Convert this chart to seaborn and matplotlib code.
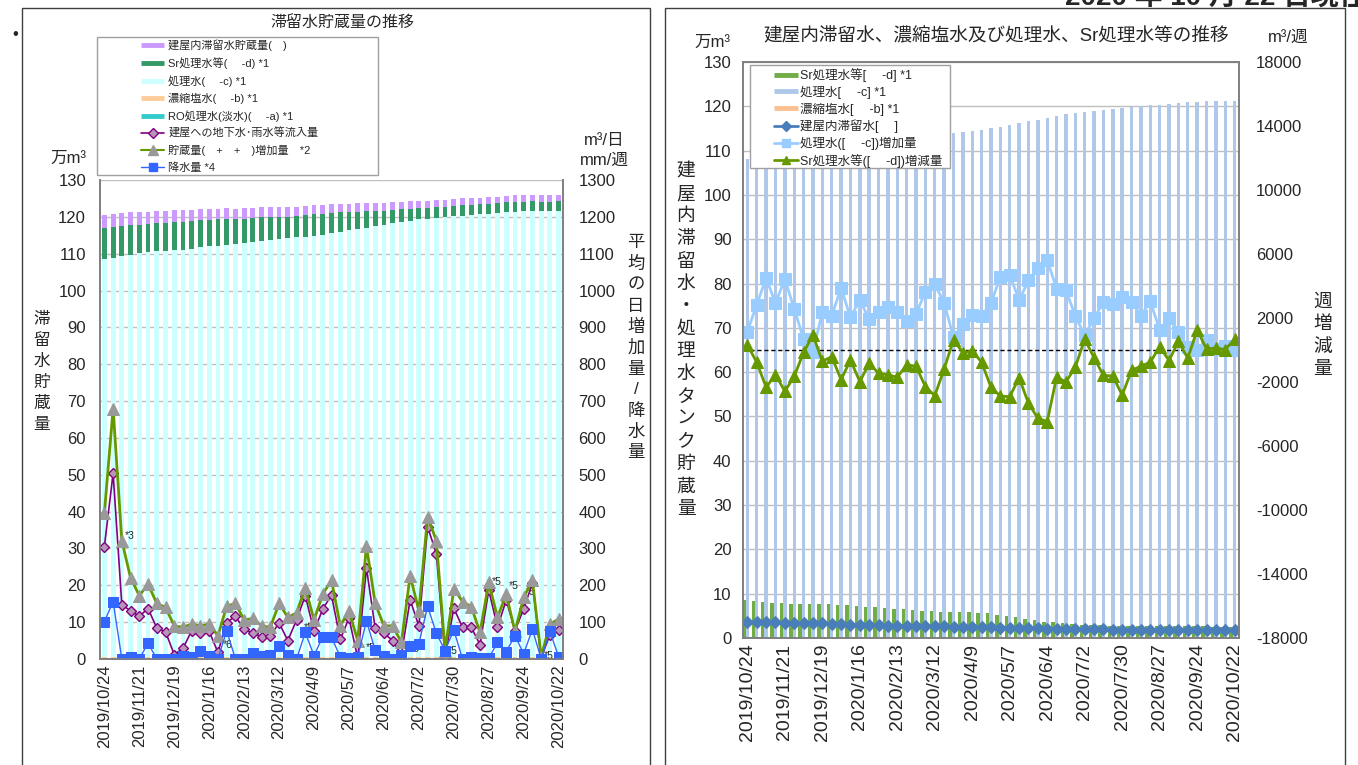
import numpy as np
import pandas as pd
import seaborn as sns
import matplotlib.pyplot as plt
from matplotlib.patches import Rectangle
from matplotlib.lines import Line2D

W, H = 1358, 765
FONTS = ['Liberation Sans', 'Noto Sans CJK JP']

# weekly dates (53 weeks)
dates = pd.date_range("2019-10-24", periods=53, freq="7D")
date_labels = [f"{d.year}/{d.month}/{d.day}" for d in dates]

# storage (万m3)
building = [3.6, 3.6, 3.5, 3.5, 3.4, 3.4, 3.3, 3.3, 3.3, 3.2, 3.1, 3.0, 3.0, 2.9, 2.9, 2.8, 2.8, 2.7,
            2.7, 2.7, 2.6, 2.6, 2.5, 2.5, 2.5, 2.4, 2.4, 2.3, 2.3, 2.3, 2.2, 2.2, 2.1, 2.1, 2.1, 2.0,
            2.0, 2.0, 2.0, 1.9, 1.9, 1.9, 1.9, 1.8, 1.8, 1.8, 1.8, 1.8, 1.7, 1.7, 1.8, 1.7, 1.8]
sr_water = [8.5, 8.4, 8.2, 8.0, 7.8, 7.6, 7.6, 7.7, 7.6, 7.6, 7.4, 7.4, 7.2, 7.1, 7.0, 6.8, 6.6, 6.6,
            6.4, 6.2, 6.0, 5.8, 5.8, 5.8, 5.8, 5.7, 5.6, 5.3, 4.9, 4.7, 4.4, 4.1, 3.7, 3.5, 3.3, 3.2,
            3.0, 2.9, 2.9, 2.8, 2.8, 2.8, 2.7, 2.7, 2.7, 2.6, 2.6, 2.6, 2.6, 2.6, 2.5, 2.5, 2.5]
treated = [108.0, 108.3, 108.8, 109.2, 109.6, 109.9, 110.1, 110.2, 110.4, 110.6, 110.9, 111.2, 111.5,
           111.7, 111.9, 112.1, 112.4, 112.7, 113.0, 113.3, 113.5, 113.7, 113.9, 114.1, 114.4, 114.6,
           115.0, 115.4, 115.8, 116.2, 116.6, 117.0, 117.4, 117.8, 118.2, 118.5, 118.8, 119.0, 119.2,
           119.4, 119.6, 119.8, 120.0, 120.2, 120.4, 120.6, 120.8, 120.9, 121.0, 121.1, 121.1, 121.1, 121.2]
brine = [0.1] * 53
ro_water = [0.4] * 53

# left chart lines (m3/日, mm/週)
inflow = [305, 504, 147, 131, 116, 137, 84, 74, 12, 29, 77, 70, 75, 18, 99, 116, 81, 70, 61, 63, 98,
          50, 106, 172, 75, 136, 173, 53, 111, 3, 247, 84, 70, 50, 12, 161, 89, 359, 286, 6, 138, 86,
          86, 39, 187, 86, 160, 77, 136, 206, 3, 66, 79]
storage_inc = [396, 679, 321, 220, 172, 203, 151, 140, 90, 86, 95, 90, 95, 63, 143, 151, 106, 110, 90,
               86, 151, 113, 125, 194, 106, 176, 214, 90, 130, 50, 307, 151, 90, 90, 45, 226, 131, 386,
               321, 23, 190, 156, 142, 72, 208, 113, 176, 75, 167, 214, 6, 95, 108]
rain = [101, 156, 0, 5, 0, 43, 0, 0, 0, 8, 6, 21, 8, 0, 77, 0, 0, 15, 9, 12, 35, 11, 0, 72, 9, 61, 59,
        6, 2, 5, 104, 24, 9, 0, 12, 34, 41, 143, 70, 23, 79, 0, 5, 2, 2, 45, 20, 63, 14, 81, 0, 75, 6]

# right chart lines (m3/週)
treated_inc = [1146, 2833, 4500, 2916, 4437, 2562, 687, -104, 2354, 2146, 3875, 2041, 3125, 1916, 2354,
               2666, 2354, 1791, 2250, 3645, 4125, 2937, 791, 1625, 2208, 2146, 2916, 4590, 4700, 3110,
               4347, 5109, 5624, 3832, 3729, 2122, 927, 1978, 3008, 2905, 3317, 3008, 2122, 3049, 1257,
               2019, 1154, 165, 0, 618, 62, 268, 0]
sr_change = [312, -771, -2333, -1541, -2583, -1646, -146, 937, -708, -417, -1854, -625, -1979, -833,
             -1458, -1541, -1708, -917, -1021, -2291, -2854, -1187, 646, -187, -42, -771, -2333, -2880,
             -2920, -1730, -3337, -4264, -4470, -1689, -1998, -1071, 680, -494, -1586, -1627, -2822,
             -1277, -1009, -762, 206, -659, 536, -515, 1257, 62, 124, 21, 680]

# note marks on the left chart: (week index, value in 万m3, text)
notes = [(2.3, 33.5, "*3"), (13.6, 3.8, "*6"), (22.8, 8.3, "*5"), (29.9, 2.9, "*5"), (35.0, 2.6, "*5"),
         (39.3, 2.3, "*5"), (44.4, 21.0, "*5"), (46.3, 19.8, "*5"), (48.2, 18.3, "*5"), (50.3, 0.8, "*5")]

sns.set_theme(style="white")
plt.rcParams['font.family'] = FONTS
plt.rcParams['axes.unicode_minus'] = False


def fx(x):
    return x / W


def fy(y):
    return 1 - y / H


fig = plt.figure(figsize=(W / 100, H / 100), dpi=100)
idx = np.arange(len(date_labels))

# ---------- left chart ----------
ax1 = fig.add_axes([fx(100), fy(659), 463 / W, 479 / H])
df = pd.DataFrame({"date": date_labels, "ro": ro_water, "brine": brine, "treated": treated,
                   "sr": sr_water, "building": building})
df["t_ro"] = df["ro"]
df["t_brine"] = df["t_ro"] + df["brine"]
df["t_treated"] = df["t_brine"] + df["treated"]
df["t_sr"] = df["t_treated"] + df["sr"]
df["t_building"] = df["t_sr"] + df["building"]
for col, c in [("t_building", "#CC99FF"), ("t_sr", "#339966"), ("t_treated", "#CCFFFF"),
               ("t_brine", "#FFCC99"), ("t_ro", "#33CCCC")]:
    sns.barplot(data=df, x="date", y=col, color=c, saturation=1, width=0.55, linewidth=0, ax=ax1)
ax1.set_ylim(0, 130)
ax1.set_yticks(range(0, 131, 10))
ax1.yaxis.grid(True, color="#C0C0C0", lw=1)
ax1.set_axisbelow(True)
ax1.set_xlabel("")
ax1.set_ylabel("")

ax1r = ax1.twinx()
sns.lineplot(x=idx, y=inflow, ax=ax1r, color="#800080", lw=1.2, marker="D", markersize=5,
             markerfacecolor="#B996B9", markeredgecolor="#800080", markeredgewidth=1)
sns.lineplot(x=idx, y=storage_inc, ax=ax1r, color="#669900", lw=2, marker="^", markersize=9,
             markerfacecolor="#999999", markeredgecolor="#999999")
sns.lineplot(x=idx, y=rain, ax=ax1r, color="#3366FF", lw=1, marker="s", markersize=7,
             markerfacecolor="#3366FF", markeredgecolor="#3366FF")
ax1r.set_ylim(0, 1300)
ax1r.set_yticks(range(0, 1301, 100))
ax1.set_xlim(-0.5, 52.5)
ax1.set_xticks(idx[::4])
ax1.set_xticklabels(date_labels[::4], rotation=90, fontsize=12)
ax1.tick_params(axis="y", labelsize=12, pad=10, length=0)
ax1.tick_params(axis="x", pad=4, length=0)
ax1r.tick_params(axis="y", labelsize=12, pad=11, length=0)
for a in (ax1, ax1r):
    for s in ("left", "right", "bottom"):
        a.spines[s].set_color("#808080")
    a.spines["top"].set_visible(False)
for i, v, t in notes:
    ax1.text(i, v, t, fontsize=7.5, ha="left", va="center", zorder=10)

# ---------- right chart ----------
ax2 = fig.add_axes([fx(742.7), fy(638), 496.6 / W, 576 / H])
long_df = pd.DataFrame({
    "date": date_labels * 3,
    "series": ["sr"] * 53 + ["treated"] * 53 + ["brine"] * 53,
    "value": sr_water + treated + brine,
})
sns.barplot(data=long_df, x="date", y="value", hue="series", hue_order=["sr", "treated", "brine"],
            palette={"sr": "#70AD47", "treated": "#AFC8EA", "brine": "#FAC090"}, saturation=1,
            width=1.1, dodge=True, linewidth=0, legend=False, ax=ax2)
sns.lineplot(x=idx, y=building, ax=ax2, color="#4A7EBB", lw=2, marker="D", markersize=6,
             markeredgecolor="#4A7EBB")
ax2.set_ylim(0, 130)
ax2.set_yticks(range(0, 131, 10))
ax2.yaxis.grid(True, color="#BFBFBF", lw=1)
ax2.set_axisbelow(True)
ax2.set_xlabel("")
ax2.set_ylabel("")

ax2r = ax2.twinx()
ax2r.axhline(0, color="black", lw=1, ls=(0, (3, 2)))
sns.lineplot(x=idx, y=treated_inc, ax=ax2r, color="#99CCFF", lw=2, marker="s", markersize=8,
             markeredgecolor="#99CCFF")
sns.lineplot(x=idx, y=sr_change, ax=ax2r, color="#669900", lw=2, marker="^", markersize=8,
             markeredgecolor="#669900")
ax2r.set_ylim(-18000, 18000)
ax2r.set_yticks(range(-18000, 18001, 4000))
ax2.set_xlim(-0.5, 52.5)
ax2.set_xticks(idx[::4])
ax2.set_xticklabels(date_labels[::4], rotation=90, fontsize=14)
ax2.tick_params(axis="y", labelsize=12, pad=8, length=0)
ax2.tick_params(axis="x", pad=4, length=0)
ax2r.tick_params(axis="y", labelsize=12, pad=12, length=0)
for a in (ax2, ax2r):
    for s in ("left", "right", "bottom", "top"):
        a.spines[s].set_color("#808080")

# ---------- boxes, titles, labels ----------
for x0, x1 in [(22, 650), (665, 1345)]:
    fig.patches.append(Rectangle((fx(x0), fy(775)), (x1 - x0) / W, (775 - 8) / H,
                                 transform=fig.transFigure, fill=False, ec="#404040", lw=1, zorder=0))

fig.text(fx(1065), fy(6), "2020 年 10 月 22 日現在", fontsize=20, fontweight="bold", va="baseline")
fig.text(fx(15), fy(35), "•", fontsize=12, ha="center", va="center")

fig.text(fx(342), fy(22), "滞留水貯蔵量の推移", fontsize=11.5, ha="center", va="center")
fig.text(fx(996), fy(37), "建屋内滞留水、濃縮塩水及び処理水、Sr処理水等の推移", fontsize=13.4,
         ha="center", va="center")
fig.text(fx(68), fy(158), "万m³", fontsize=12, ha="center", va="center")
fig.text(fx(604), fy(140), "m³/日", fontsize=12, ha="center", va="center")
fig.text(fx(604), fy(160), "mm/週", fontsize=12, ha="center", va="center")
fig.text(fx(712), fy(42), "万m³", fontsize=12, ha="center", va="center")
fig.text(fx(1288), fy(37), "m³/週", fontsize=12, ha="center", va="center")


def vtext(x, y0, s, size, step):
    for k, ch in enumerate(s):
        fig.text(fx(x), fy(y0 + k * step), ch, fontsize=size, ha="center", va="center")


vtext(42, 319, "滞留水貯蔵量", 12, 21)
vtext(636, 243, "平均の日増加量/降水量", 12.5, 21)
vtext(686, 172, "建屋内滞留水・処理水タンク貯蔵量", 13.5, 22.5)
vtext(1323, 302, "週増減量", 13.5, 22.5)

# ---------- legends ----------
fig.patches.append(Rectangle((fx(97), fy(175)), (378 - 97) / W, (175 - 37) / H,
                             transform=fig.transFigure, fc="white", ec="#A0A0A0", lw=1, zorder=3))
h1 = [
    Line2D([], [], color="#CC99FF", lw=3.5, solid_capstyle="butt"),
    Line2D([], [], color="#339966", lw=3.5, solid_capstyle="butt"),
    Line2D([], [], color="#CCFFFF", lw=3.5, solid_capstyle="butt"),
    Line2D([], [], color="#FFCC99", lw=3.5, solid_capstyle="butt"),
    Line2D([], [], color="#33CCCC", lw=3.5, solid_capstyle="butt"),
    Line2D([], [], color="#800080", lw=1.2, marker="D", markersize=5, markerfacecolor="#B996B9"),
    Line2D([], [], color="#669900", lw=1.5, marker="^", markersize=7, markerfacecolor="#999999",
           markeredgecolor="#999999"),
    Line2D([], [], color="#3366FF", lw=1, marker="s", markersize=6),
]
l1 = ["建屋内滞留水貯蔵量(　)", "Sr処理水等(　 -d) *1", "処理水(　 -c) *1", "濃縮塩水(　 -b) *1",
      "RO処理水(淡水)(　 -a) *1", "建屋への地下水･雨水等流入量", "貯蔵量(　+　+　)増加量　*2", "降水量 *4"]
leg1 = fig.legend(h1, l1, loc="upper left", bbox_to_anchor=(fx(137), fy(35)), frameon=False,
                  fontsize=8, handlelength=2.0, handletextpad=0.4, labelspacing=0.55,
                  borderaxespad=0)
leg1.set_zorder(6)

fig.patches.append(Rectangle((fx(750), fy(168)), (950 - 750) / W, (168 - 65) / H,
                             transform=fig.transFigure, fc="white", ec="#A0A0A0", lw=1, zorder=3))
h2 = [
    Line2D([], [], color="#70AD47", lw=3.5, solid_capstyle="butt"),
    Line2D([], [], color="#AFC8EA", lw=3.5, solid_capstyle="butt"),
    Line2D([], [], color="#FAC090", lw=3.5, solid_capstyle="butt"),
    Line2D([], [], color="#4A7EBB", lw=2, marker="D", markersize=5),
    Line2D([], [], color="#99CCFF", lw=2, marker="s", markersize=6),
    Line2D([], [], color="#669900", lw=2, marker="^", markersize=6),
]
l2 = ["Sr処理水等[　 -d] *1", "処理水[　 -c] *1", "濃縮塩水[　 -b] *1", "建屋内滞留水[　 ]",
      "処理水([　 -c])増加量", "Sr処理水等([　 -d])増減量"]
leg2 = fig.legend(h2, l2, loc="upper left", bbox_to_anchor=(fx(769), fy(63)), frameon=False,
                  fontsize=9, handlelength=1.9, handletextpad=0.2, labelspacing=0.3,
                  borderaxespad=0)
leg2.set_zorder(6)

fig.savefig("out.png", dpi=100)
